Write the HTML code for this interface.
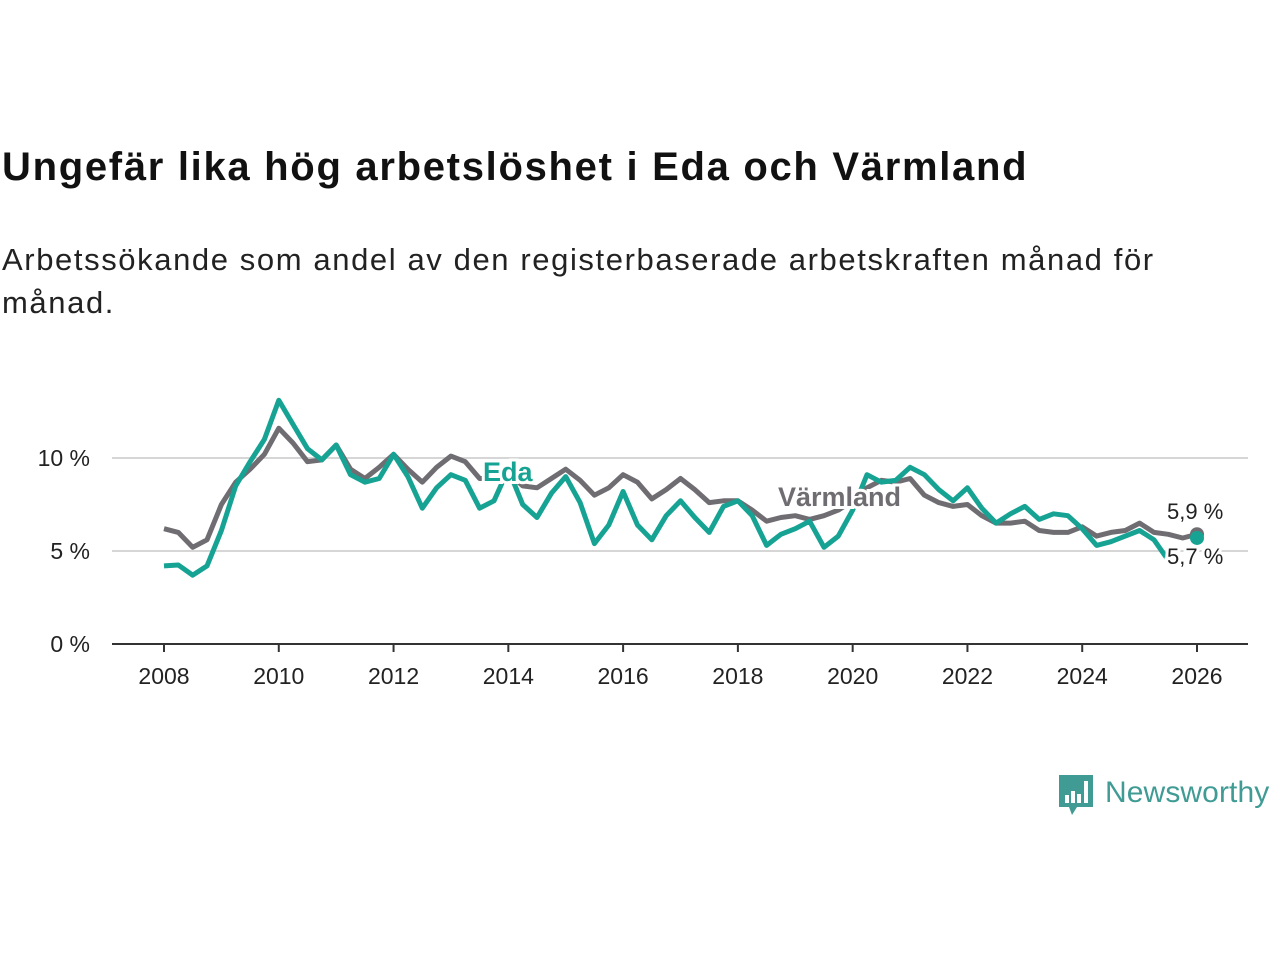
<!DOCTYPE html>
<html><head><meta charset="utf-8"><style>
body{margin:0;width:1280px;height:960px;background:#fff;font-family:"Liberation Sans","DejaVu Sans",sans-serif;overflow:hidden;position:relative}
#title{position:absolute;left:2px;top:145px;font-size:40px;letter-spacing:1.7px;font-weight:bold;color:#111;margin:0}
#sub{position:absolute;left:2px;top:238px;font-size:31px;letter-spacing:1.6px;line-height:43px;color:#222;width:1200px}
svg{position:absolute;left:0;top:0}
</style></head><body>
<h1 id="title">Ungefär lika hög arbetslöshet i Eda och Värmland</h1>
<div id="sub">Arbetssökande som andel av den registerbaserade arbetskraften månad för månad.</div>
<svg id="chart" width="1280" height="960"></svg>
<div style="position:absolute;left:1059px;top:775px;display:flex;align-items:center">
<svg width="36" height="42" style="position:static"><path d="M0 0H34V32H18L13 40L10 32H0Z" fill="#3f9b94"/><rect x="6" y="20" width="4" height="8" fill="#fff"/><rect x="12" y="16" width="4" height="12" fill="#fff"/><rect x="18" y="19" width="4" height="9" fill="#fff"/><rect x="25" y="6" width="4" height="22" fill="#fff"/></svg>
<span style="font-size:30px;color:#3f9b94;margin-left:10px;margin-top:-6px;letter-spacing:0.1px">Newsworthy</span></div>
<script>
const years=[];for(let i=0;i<=72;i++)years.push(2008+i*0.25);
const varmland=[6.2,6.0,5.2,5.6,7.5,8.7,9.4,10.2,11.6,10.8,9.8,9.9,10.7,9.4,8.9,9.5,10.2,9.4,8.7,9.5,10.1,9.8,8.9,8.9,9.2,8.5,8.4,8.9,9.4,8.8,8.0,8.4,9.1,8.7,7.8,8.3,8.9,8.3,7.6,7.7,7.7,7.2,6.6,6.8,6.9,6.7,6.9,7.2,7.7,8.4,8.8,8.7,8.9,8.0,7.6,7.4,7.5,6.9,6.5,6.5,6.6,6.1,6.0,6.0,6.3,5.8,6.0,6.1,6.5,6.0,5.9,5.7,5.9];
const eda=[4.2,4.25,3.7,4.2,6.1,8.5,9.8,11.0,13.1,11.8,10.5,9.9,10.7,9.1,8.7,8.9,10.2,9.0,7.3,8.4,9.1,8.8,7.3,7.7,9.4,7.5,6.8,8.1,9.0,7.6,5.4,6.4,8.2,6.4,5.6,6.9,7.7,6.8,6.0,7.4,7.7,6.9,5.3,5.9,6.2,6.6,5.2,5.8,7.2,9.1,8.7,8.8,9.5,9.1,8.3,7.7,8.4,7.3,6.5,7.0,7.4,6.7,7.0,6.9,6.2,5.3,5.5,5.8,6.1,5.6,4.5,null,5.7];
const yTicks=[0,5,10];
const xTicks=[2008,2010,2012,2014,2016,2018,2020,2022,2024,2026];
const X=t=>164+(t-2008)*(1197-164)/18;
const Y=v=>644-v*18.6;
const svg=document.getElementById('chart');const NS='http://www.w3.org/2000/svg';
function mk(tag,attrs,parent){const e=document.createElementNS(NS,tag);for(const k in attrs)e.setAttribute(k,attrs[k]);(parent||svg).appendChild(e);return e;}
yTicks.forEach(v=>{
 if(v>0){const g=mk('line',{x1:112,x2:1248,y1:Y(v),y2:Y(v),stroke:'#d6d6d6','stroke-width':2});
 
 }
 const t=mk('text',{x:90,y:Y(v)+8,'text-anchor':'end','font-size':23,fill:'#222'});t.textContent=v+' %';
 
 
});
const ax=mk('line',{x1:112,x2:1248,y1:644,y2:644,stroke:'#333','stroke-width':2});


xTicks.forEach(y=>{
 mk('line',{x1:X(y),x2:X(y),y1:644,y2:652,stroke:'#333','stroke-width':2});
 const t=mk('text',{x:X(y),y:684,'text-anchor':'middle','font-size':23,fill:'#222'});t.textContent=y;
 
 
});
function path(vals){let d='',pen=false;vals.forEach((v,i)=>{if(v==null){pen=false;return;}d+=(pen?'L':'M')+X(years[i]).toFixed(1)+' '+Y(v).toFixed(1);pen=true;});return d;}
const pv=mk('path',{d:path(varmland),fill:'none',stroke:'#6f6d72','stroke-width':5,'stroke-linejoin':'round'});


const pe=mk('path',{d:path(eda),fill:'none',stroke:'#16a394','stroke-width':5,'stroke-linejoin':'round'});


const lv=varmland.length-1,le=eda.length-1;
const dv=mk('circle',{cx:X(years[lv]),cy:Y(varmland[lv]),r:7,fill:'#6f6d72'});


const de=mk('circle',{cx:X(years[le]),cy:Y(eda[le]),r:7,fill:'#16a394'});


function lbl(x,y,txt,col,bold,name){const t=mk('text',{x:x,y:y,'font-size':bold?27:22,'font-weight':bold?'bold':'normal',fill:col,stroke:'#fff','stroke-width':6,'paint-order':'stroke'});t.textContent=txt;
 
 }
lbl(483,481,'Eda','#16a394',true,'eda-label');
lbl(778,506,'Värmland','#6f6d72',true,'varmland-label');
lbl(1167,519,'5,9 %','#222',false,'varmland-end-value');
lbl(1167,564,'5,7 %','#222',false,'eda-end-value');
</script>
</body></html>
